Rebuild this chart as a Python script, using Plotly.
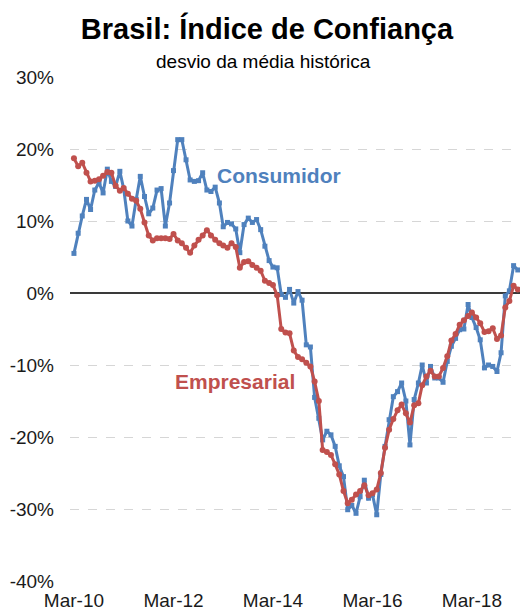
import pandas as pd
import plotly.graph_objects as go

# Monthly series, Mar-2010 onwards (% deviation from historical average)
months = pd.date_range("2010-03-01", periods=108, freq="MS")

consumidor = [
    5.5, 8.3, 10.7, 13.0, 11.6, 14.3, 15.3, 13.9, 17.2, 15.5, 14.8, 16.9,
    14.5, 10.0, 9.3, 13.0, 16.2, 13.4, 11.0, 11.8, 14.3, 14.5, 9.3, 12.5,
    17.0, 21.3, 21.3, 18.5, 15.7, 15.5, 15.6, 16.7, 14.3, 14.1, 14.7, 12.5,
    9.2, 9.8, 9.6, 8.9, 5.6, 9.5, 10.4, 9.8, 10.2, 8.8, 6.5, 4.5,
    3.6, 3.5, -0.2, -0.6, 0.5, -1.4, 0.2, -1.0, -7.2, -7.5, -14.5, -17.4,
    -20.4, -19.2, -19.7, -21.3, -24.0, -25.5, -30.1, -29.5, -30.6, -28.3, -26.0, -28.5,
    -28.0, -30.8, -25.2, -21.3, -17.6, -14.4, -13.7, -12.5, -15.0, -21.1, -14.8, -12.5,
    -10.0, -12.5, -10.2, -11.8, -11.8, -12.4, -9.5, -7.4, -6.3, -5.1, -5.0, -1.6,
    -3.4, -4.8, -6.5, -10.4, -10.0, -10.2, -10.9, -8.3, -0.4, 0.3, 3.8, 3.2,
]

empresarial = [
    18.7, 17.6, 18.1, 16.7, 15.5, 15.6, 15.8, 16.3, 16.8, 16.7, 14.9, 14.2,
    14.6, 13.8, 13.1, 12.8, 11.7, 9.8, 8.0, 7.3, 7.6, 7.6, 7.6, 7.5,
    8.2, 7.3, 6.9, 6.3, 5.6, 6.6, 7.4, 8.0, 8.7, 8.0, 7.4, 6.9,
    6.6, 6.3, 6.9, 6.4, 3.5, 4.3, 4.4, 3.9, 3.5, 3.1, 1.7, 1.4,
    1.1, -0.3, -5.0, -5.5, -5.6, -8.0, -8.9, -9.2, -9.7, -10.2, -12.3, -15.0,
    -21.8, -22.1, -22.5, -23.8, -25.2, -27.5, -29.2, -28.7, -28.0, -27.5, -26.7, -28.1,
    -27.8, -27.3, -25.0, -21.5, -19.0, -17.5, -16.3, -15.5, -16.7, -18.0, -15.6, -15.3,
    -12.8, -11.6, -10.8, -11.6, -11.6, -10.4, -8.8, -6.6, -5.7, -4.4, -3.8, -3.2,
    -2.7, -3.4, -4.2, -5.4, -5.3, -4.9, -6.4, -5.9, -2.0, -1.1, 1.0, 0.5,
]

y_ticks = [-40, -30, -20, -10, 0, 10, 20, 30]
y_labels = ["-40%", "-30%", "-20%", "-10%", "0%", "10%", "20%", "30%"]

BLUE = "#4F81BD"
RED = "#C0504D"
FONT = "Liberation Sans, Arial, sans-serif"

fig = go.Figure()
fig.add_trace(go.Scatter(
    x=months, y=consumidor, mode="lines+markers", name="Consumidor",
    line=dict(color=BLUE, width=3),
    marker=dict(symbol="square", size=5, color=BLUE),
))
fig.add_trace(go.Scatter(
    x=months, y=empresarial, mode="lines+markers", name="Empresarial",
    line=dict(color=RED, width=3),
    marker=dict(symbol="circle", size=6, color=RED),
))

fig.update_layout(
    width=520, height=613,
    margin=dict(l=70, r=0, t=77, b=32, autoexpand=False),
    paper_bgcolor="white", plot_bgcolor="white",
    showlegend=False,
    font=dict(family=FONT, color="#1A1A1A"),
    title=dict(
        text="<b>Brasil: Índice de Confiança</b>",
        font=dict(size=29, color="#000000", family=FONT),
        x=267 / 520, xanchor="center",
        yref="container", y=1 - 29 / 613, yanchor="middle",
    ),
    annotations=[
        dict(text="desvio da média histórica", xref="paper", yref="paper",
             x=0.431, y=1.031, xanchor="center", yanchor="middle",
             showarrow=False, font=dict(size=19, color="#000000")),
        dict(text="<b>Consumidor</b>", xref="paper", yref="paper",
             x=0.464, y=0.804, xanchor="center", yanchor="middle",
             showarrow=False, font=dict(size=21, color=BLUE)),
        dict(text="<b>Empresarial</b>", xref="paper", yref="paper",
             x=0.367, y=0.395, xanchor="center", yanchor="middle",
             showarrow=False, font=dict(size=21, color=RED)),
    ],
)

fig.update_xaxes(
    type="date",
    range=["2010-01-31", "2019-02-17"],
    tick0="2010-03-01", dtick="M24", tickformat="%b-%y",
    showgrid=False, showline=False, zeroline=False,
    ticks="", ticklabelstandoff=6,
    tickfont=dict(size=19, color="#1A1A1A"),
    automargin=False,
)
fig.update_yaxes(
    range=[-40, 30],
    tickvals=y_ticks, ticktext=y_labels,
    showgrid=True, gridcolor="#D6D6D6", griddash="dash", gridwidth=1,
    zeroline=True, zerolinecolor="#3A3A3A", zerolinewidth=1.5,
    showline=False, ticks="", ticklabelstandoff=15,
    tickfont=dict(size=19, color="#1A1A1A"),
    automargin=False,
)

fig.write_html("out.html")
